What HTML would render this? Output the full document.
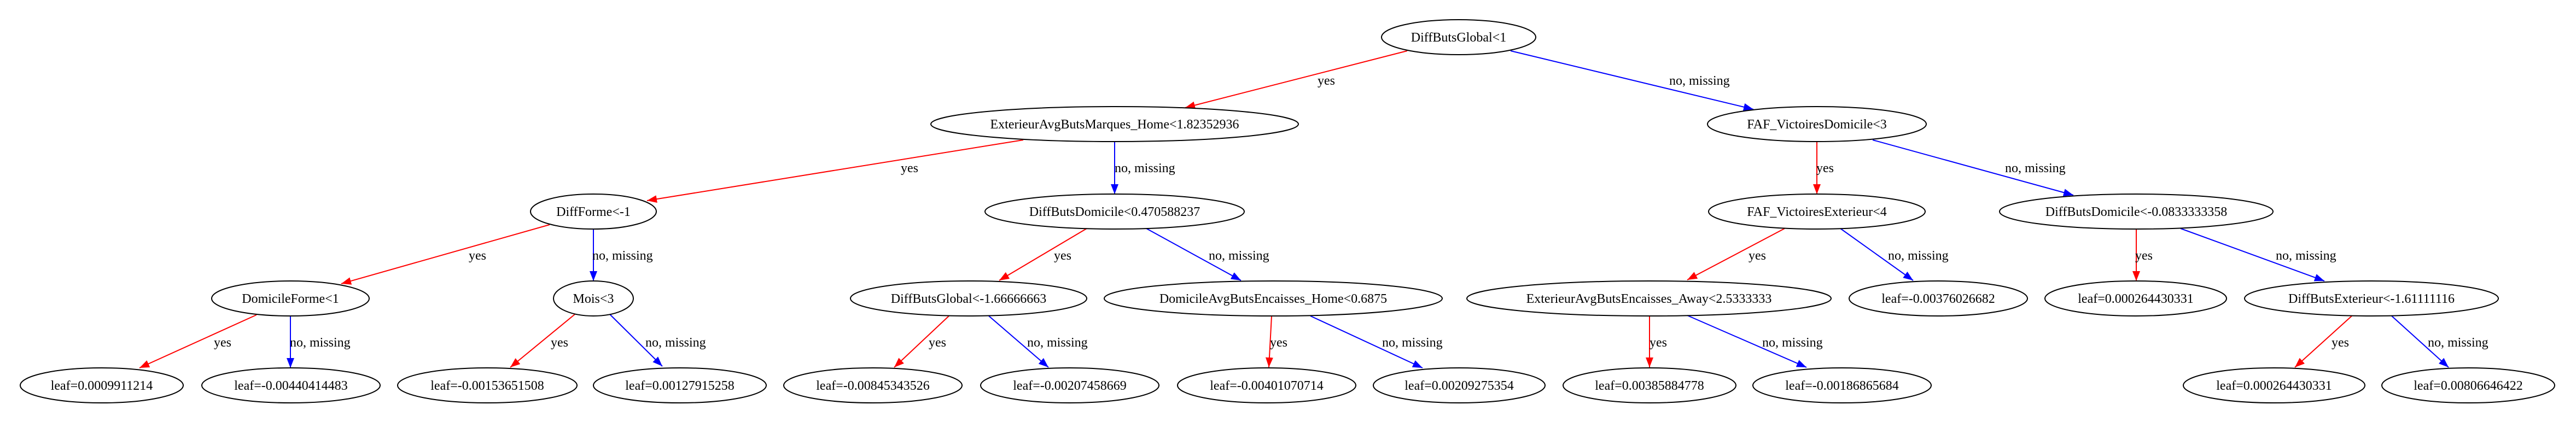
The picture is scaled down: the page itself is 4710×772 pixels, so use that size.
<!DOCTYPE html>
<html><head><meta charset="utf-8"><style>
html,body{margin:0;padding:0;background:#fff;}
svg{display:block;}
text{font-family:"Liberation Serif","Times New Roman",serif;font-size:24px;fill:#000;}
</style></head><body>
<svg width="4710" height="772" viewBox="0 0 4710 772" xmlns="http://www.w3.org/2000/svg">
<defs>
<marker id="ar" markerUnits="userSpaceOnUse" markerWidth="20" markerHeight="14" refX="18" refY="7" orient="auto"><path d="M0,0 L18,7 L0,14 Z" fill="#ff0000"/></marker>
<marker id="ab" markerUnits="userSpaceOnUse" markerWidth="20" markerHeight="14" refX="18" refY="7" orient="auto"><path d="M0,0 L18,7 L0,14 Z" fill="#0000ff"/></marker>
</defs>
<g stroke-width="2" fill="none">
<line x1="2573" y1="93" x2="2167" y2="197" stroke="#ff0000" marker-end="url(#ar)"/>
<line x1="2762" y1="93" x2="3206" y2="200" stroke="#0000ff" marker-end="url(#ab)"/>
<line x1="1871" y1="256" x2="1183" y2="367" stroke="#ff0000" marker-end="url(#ar)"/>
<line x1="2038" y1="259" x2="2038" y2="355" stroke="#0000ff" marker-end="url(#ab)"/>
<line x1="1005" y1="411" x2="624" y2="519" stroke="#ff0000" marker-end="url(#ar)"/>
<line x1="1085" y1="419" x2="1085" y2="514" stroke="#0000ff" marker-end="url(#ab)"/>
<line x1="469" y1="576" x2="255" y2="673" stroke="#ff0000" marker-end="url(#ar)"/>
<line x1="531" y1="578" x2="531" y2="673" stroke="#0000ff" marker-end="url(#ab)"/>
<line x1="1051" y1="575" x2="933" y2="672" stroke="#ff0000" marker-end="url(#ar)"/>
<line x1="1115" y1="575" x2="1211" y2="670" stroke="#0000ff" marker-end="url(#ab)"/>
<line x1="1987" y1="418" x2="1827" y2="513" stroke="#ff0000" marker-end="url(#ar)"/>
<line x1="2096" y1="418" x2="2269" y2="513" stroke="#0000ff" marker-end="url(#ab)"/>
<line x1="1735" y1="578" x2="1635" y2="672" stroke="#ff0000" marker-end="url(#ar)"/>
<line x1="1808" y1="578" x2="1917" y2="672" stroke="#0000ff" marker-end="url(#ab)"/>
<line x1="2325" y1="578" x2="2320" y2="672" stroke="#ff0000" marker-end="url(#ar)"/>
<line x1="2396" y1="578" x2="2601" y2="673" stroke="#0000ff" marker-end="url(#ab)"/>
<line x1="3322" y1="259" x2="3322" y2="355" stroke="#ff0000" marker-end="url(#ar)"/>
<line x1="3424" y1="256" x2="3791" y2="357" stroke="#0000ff" marker-end="url(#ab)"/>
<line x1="3263" y1="418" x2="3085" y2="512" stroke="#ff0000" marker-end="url(#ar)"/>
<line x1="3365" y1="418" x2="3498" y2="513" stroke="#0000ff" marker-end="url(#ab)"/>
<line x1="3016" y1="578" x2="3016" y2="672" stroke="#ff0000" marker-end="url(#ar)"/>
<line x1="3085" y1="577" x2="3303" y2="672" stroke="#0000ff" marker-end="url(#ab)"/>
<line x1="3906" y1="419" x2="3906" y2="514" stroke="#ff0000" marker-end="url(#ar)"/>
<line x1="3987" y1="418" x2="4250" y2="514" stroke="#0000ff" marker-end="url(#ab)"/>
<line x1="4300" y1="578" x2="4196" y2="672" stroke="#ff0000" marker-end="url(#ar)"/>
<line x1="4373" y1="578" x2="4477" y2="672" stroke="#0000ff" marker-end="url(#ab)"/>
</g>
<g fill="none" stroke="#000" stroke-width="2">
<ellipse cx="2667" cy="68" rx="141" ry="32"/>
<ellipse cx="2038" cy="227" rx="336" ry="32"/>
<ellipse cx="3322" cy="227" rx="200" ry="32"/>
<ellipse cx="1085" cy="387" rx="115" ry="32"/>
<ellipse cx="2038" cy="387" rx="237" ry="32"/>
<ellipse cx="3322" cy="387" rx="198" ry="32"/>
<ellipse cx="3906" cy="387" rx="250" ry="32"/>
<ellipse cx="531" cy="546" rx="144" ry="32"/>
<ellipse cx="1085" cy="546" rx="73" ry="32"/>
<ellipse cx="1771" cy="546" rx="216" ry="32"/>
<ellipse cx="2328" cy="546" rx="309" ry="32"/>
<ellipse cx="3015" cy="546" rx="333" ry="32"/>
<ellipse cx="3544" cy="546" rx="163" ry="32"/>
<ellipse cx="3905" cy="546" rx="166" ry="32"/>
<ellipse cx="4336" cy="546" rx="232" ry="32"/>
<ellipse cx="186" cy="705" rx="149" ry="32"/>
<ellipse cx="532" cy="705" rx="163" ry="32"/>
<ellipse cx="891" cy="705" rx="164" ry="32"/>
<ellipse cx="1243" cy="705" rx="158" ry="32"/>
<ellipse cx="1596" cy="705" rx="163" ry="32"/>
<ellipse cx="1956" cy="705" rx="163" ry="32"/>
<ellipse cx="2316" cy="705" rx="163" ry="32"/>
<ellipse cx="2668" cy="705" rx="157" ry="32"/>
<ellipse cx="3016" cy="705" rx="158" ry="32"/>
<ellipse cx="3368" cy="705" rx="163" ry="32"/>
<ellipse cx="4158" cy="705" rx="166" ry="32"/>
<ellipse cx="4513" cy="705" rx="158" ry="32"/>
</g>
<g text-anchor="middle">
<text x="2667" y="76">DiffButsGlobal&lt;1</text>
<text x="2038" y="235">ExterieurAvgButsMarques_Home&lt;1.82352936</text>
<text x="3322" y="235">FAF_VictoiresDomicile&lt;3</text>
<text x="1085" y="395">DiffForme&lt;-1</text>
<text x="2038" y="395">DiffButsDomicile&lt;0.470588237</text>
<text x="3322" y="395">FAF_VictoiresExterieur&lt;4</text>
<text x="3906" y="395">DiffButsDomicile&lt;-0.0833333358</text>
<text x="531" y="554">DomicileForme&lt;1</text>
<text x="1085" y="554">Mois&lt;3</text>
<text x="1771" y="554">DiffButsGlobal&lt;-1.66666663</text>
<text x="2328" y="554">DomicileAvgButsEncaisses_Home&lt;0.6875</text>
<text x="3015" y="554">ExterieurAvgButsEncaisses_Away&lt;2.5333333</text>
<text x="3544" y="554">leaf=-0.00376026682</text>
<text x="3905" y="554">leaf=0.000264430331</text>
<text x="4336" y="554">DiffButsExterieur&lt;-1.61111116</text>
<text x="186" y="713">leaf=0.0009911214</text>
<text x="532" y="713">leaf=-0.00440414483</text>
<text x="891" y="713">leaf=-0.00153651508</text>
<text x="1243" y="713">leaf=0.00127915258</text>
<text x="1596" y="713">leaf=-0.00845343526</text>
<text x="1956" y="713">leaf=-0.00207458669</text>
<text x="2316" y="713">leaf=-0.00401070714</text>
<text x="2668" y="713">leaf=0.00209275354</text>
<text x="3016" y="713">leaf=0.00385884778</text>
<text x="3368" y="713">leaf=-0.00186865684</text>
<text x="4158" y="713">leaf=0.000264430331</text>
<text x="4513" y="713">leaf=0.00806646422</text>
</g>
<g>
<text x="2409" y="155">yes</text>
<text x="3052" y="155">no, missing</text>
<text x="1647" y="315">yes</text>
<text x="2038" y="315">no, missing</text>
<text x="3321" y="315">yes</text>
<text x="3666" y="315">no, missing</text>
<text x="857" y="475">yes</text>
<text x="1083" y="475">no, missing</text>
<text x="1927" y="475">yes</text>
<text x="2210" y="475">no, missing</text>
<text x="3197" y="475">yes</text>
<text x="3452" y="475">no, missing</text>
<text x="3904" y="475">yes</text>
<text x="4161" y="475">no, missing</text>
<text x="391" y="634">yes</text>
<text x="530" y="634">no, missing</text>
<text x="1007" y="634">yes</text>
<text x="1180" y="634">no, missing</text>
<text x="1698" y="634">yes</text>
<text x="1878" y="634">no, missing</text>
<text x="2322" y="634">yes</text>
<text x="2527" y="634">no, missing</text>
<text x="3016" y="634">yes</text>
<text x="3222" y="634">no, missing</text>
<text x="4263" y="634">yes</text>
<text x="4439" y="634">no, missing</text>
</g>
</svg>
</body></html>
